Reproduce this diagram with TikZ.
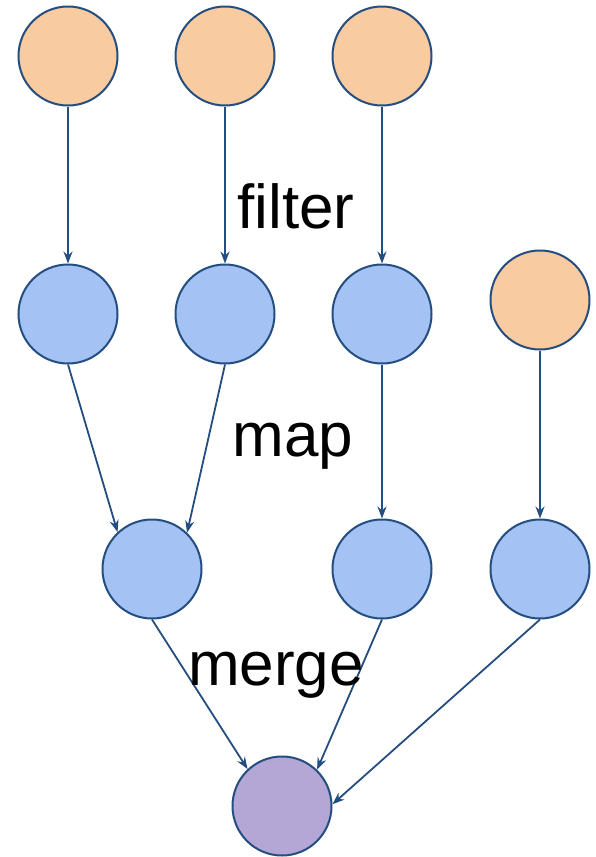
\documentclass[tikz,border=0pt]{standalone}
\usepackage{fontspec}
\setmainfont{Liberation Sans}
\usetikzlibrary{arrows.meta}
\definecolor{orfill}{HTML}{F8CBA0}
\definecolor{blfill}{HTML}{A4C2F4}
\definecolor{pufill}{HTML}{B4A7D6}
\definecolor{edge}{HTML}{244D80}
\begin{document}
\begin{tikzpicture}[x=1pt,y=-1pt,
  nd/.style={circle,draw=edge,line width=2pt,minimum size=99pt,inner sep=0pt},
  src/.style={nd,fill=orfill},
  blu/.style={nd,fill=blfill},
  pur/.style={nd,fill=pufill},
  conn/.style={draw=edge,line width=1.8pt,-{Stealth[length=12pt,width=9pt]}},
  lbl/.style={font=\fontsize{62}{62}\selectfont,inner sep=0pt,anchor=base}]
\useasboundingbox (0,0) rectangle (596,857);
\node[src] (a1) at (68,56) {};
\node[src] (a2) at (225,56) {};
\node[src] (a3) at (382,56) {};
\node[blu] (b1) at (68,314) {};
\node[blu] (b2) at (225,314) {};
\node[blu] (b3) at (382,314) {};
\node[src] (b4) at (540,300) {};
\node[blu] (c1) at (152,569) {};
\node[blu] (c2) at (382,569) {};
\node[blu] (c3) at (540,569) {};
\node[pur] (d) at (282,806) {};
\draw[conn] (a1.south) -- (b1.north);
\draw[conn] (a2.south) -- (b2.north);
\draw[conn] (a3.south) -- (b3.north);
\draw[conn] (b1.south) -- (c1.133);
\draw[conn] (b2.south) -- (c1.46);
\draw[conn] (b3.south) -- (c2.north);
\draw[conn] (b4.south) -- (c3.north);
\draw[conn] (c1.south) -- (d.133);
\draw[conn] (c2.south) -- (d.46);
\draw[conn] (c3.south) -- (d.2);
\node[lbl] (t1) at (296,228) {filter};
\node[lbl] (t2) at (293,456) {map};
\node[lbl] (t3) at (276,685) {merge};
\end{tikzpicture}
\end{document}
